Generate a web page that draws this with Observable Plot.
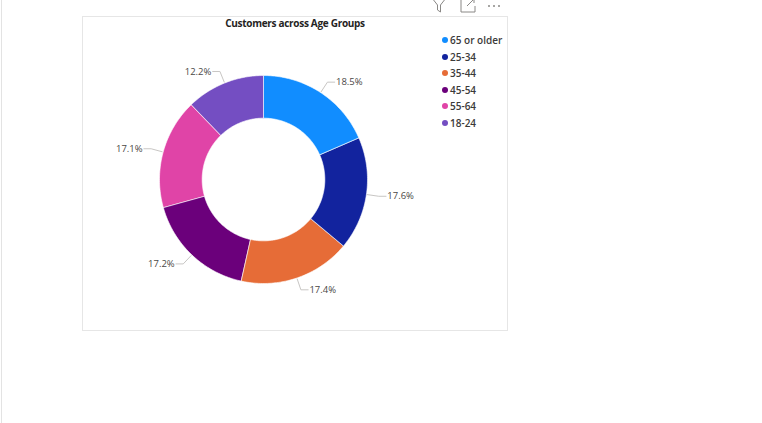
<!DOCTYPE html>
<html>
<head>
<meta charset="utf-8">
<script src="https://cdn.jsdelivr.net/npm/d3@7"></script>
<script src="https://cdn.jsdelivr.net/npm/@observablehq/plot@0.6"></script>
<style>
  html, body { margin: 0; padding: 0; background: #fff; width: 762px; height: 423px; overflow: hidden; }
  #wrap { position: relative; width: 762px; height: 423px; font-family: "Open Sans", "Noto Sans", sans-serif; }
  #leftline { position: absolute; left: 1px; top: 0; width: 1px; height: 423px; background: #e3e3e3; }
  #card { position: absolute; left: 82px; top: 16px; width: 424px; height: 313px; border: 1px solid #e6e6e6; }
  #title { position: absolute; left: 82px; top: 16px; width: 426px; text-align: center; font-size: 10px; font-weight: 700; color: #252423; line-height: 14px; letter-spacing: -0.3px; }
  #legend { position: absolute; left: 441px; top: 32px; }
  .row { height: 16.5px; display: flex; align-items: center; font-size: 10px; font-weight: 600; color: #3b3a39; }
  .sw { width: 6px; height: 6px; border-radius: 50%; margin-right: 2px; margin-left: 1px; }
  #icons { position: absolute; left: 428px; top: -6px; }
  #plot { position: absolute; left: 0; top: 0; }
</style>
</head>
<body>
<div id="wrap">
  <div id="leftline"></div>
  <div id="card"></div>
  <div id="plot"></div>
  <div id="title"></div>
  <div id="legend"></div>
  <svg id="icons" width="80" height="20" viewBox="0 0 80 20">
    <path d="M4 4 L18 4 L12.5 11 L12.5 18 L9.5 16 L9.5 11 Z" fill="none" stroke="#8a8886" stroke-width="1"/>
    <path d="M33 6 L33 18 L47 18 L47 12" fill="none" stroke="#8a8886" stroke-width="1"/>
    <path d="M39 12 L46 5 M42 5 L46 5 L46 9" fill="none" stroke="#8a8886" stroke-width="1"/>
    <circle cx="61" cy="12" r="1" fill="#8a8886"/>
    <circle cx="66" cy="12" r="1" fill="#8a8886"/>
    <circle cx="71" cy="12" r="1" fill="#8a8886"/>
  </svg>
</div>
<script>
// ---- data ----
const title = "Customers across Age Groups";
const categories = ["65 or older", "25-34", "35-44", "45-54", "55-64", "18-24"];
const shares = [18.5, 17.6, 17.4, 17.2, 17.1, 12.2];
const shareLabels = ["18.5%", "17.6%", "17.4%", "17.2%", "17.1%", "12.2%"];
const colors = ["#118DFF", "#12239E", "#E66C37", "#6B007B", "#E044A7", "#744EC2"];

// ---- geometry built from the data ----
const innerRatio = 0.59;
const total = d3.sum(shares);
let cum = 0;
const slices = categories.map((c, i) => {
  const a0 = cum / total * 2 * Math.PI;
  cum += shares[i];
  const a1 = cum / total * 2 * Math.PI;
  return {category: c, a0, a1, mid: (a0 + a1) / 2, label: shareLabels[i]};
});
const pt = (r, a) => ({x: r * Math.sin(a), y: r * Math.cos(a)});
const ring = [];
for (const s of slices) {
  const n = Math.max(2, Math.ceil((s.a1 - s.a0) / (Math.PI / 180)));
  for (let k = 0; k <= n; k++) ring.push({category: s.category, ...pt(1, s.a0 + (s.a1 - s.a0) * k / n)});
  for (let k = n; k >= 0; k--) ring.push({category: s.category, ...pt(innerRatio, s.a0 + (s.a1 - s.a0) * k / n)});
}
const leaders = [];
const texts = [];
for (const s of slices) {
  const right = Math.sin(s.mid) >= 0;
  const p0 = pt(1.01, s.mid), p1 = pt(1.12, s.mid);
  const p2 = {x: p1.x + (right ? 0.07 : -0.07), y: p1.y};
  leaders.push({category: s.category, ...p0}, {category: s.category, ...p1}, {category: s.category, ...p2});
  texts.push({label: s.label, x: p2.x + (right ? 0.012 : -0.012), y: p2.y, anchor: right ? "start" : "end"});
}

const chart = Plot.plot({
  width: 762,
  height: 423,
  margin: 0,
  x: {domain: [-1, 1], range: [159, 367], axis: null},
  y: {domain: [-1, 1], range: [283, 75], axis: null},
  color: {domain: categories, range: colors},
  style: {fontFamily: "'Open Sans', 'Noto Sans', sans-serif", background: "transparent"},
  marks: [
    Plot.line(ring, {x: "x", y: "y", z: "category", fill: "category", stroke: "white", strokeWidth: 0.6, curve: "linear-closed"}),
    Plot.line(leaders, {x: "x", y: "y", z: "category", stroke: "#c8c6c4", strokeWidth: 1}),
    Plot.text(texts.filter(d => d.anchor === "start"), {x: "x", y: "y", text: "label", textAnchor: "start", fill: "#4a4846", fontSize: 9.5}),
    Plot.text(texts.filter(d => d.anchor === "end"), {x: "x", y: "y", text: "label", textAnchor: "end", fill: "#4a4846", fontSize: 9.5})
  ]
});
document.getElementById("plot").appendChild(chart);

document.getElementById("title").textContent = title;
const legend = document.getElementById("legend");
categories.forEach((c, i) => {
  const row = document.createElement("div");
  row.className = "row";
  const sw = document.createElement("span");
  sw.className = "sw";
  sw.style.background = colors[i];
  const t = document.createElement("span");
  t.textContent = c;
  row.appendChild(sw);
  row.appendChild(t);
  legend.appendChild(row);
});
</script>
</body>
</html>
